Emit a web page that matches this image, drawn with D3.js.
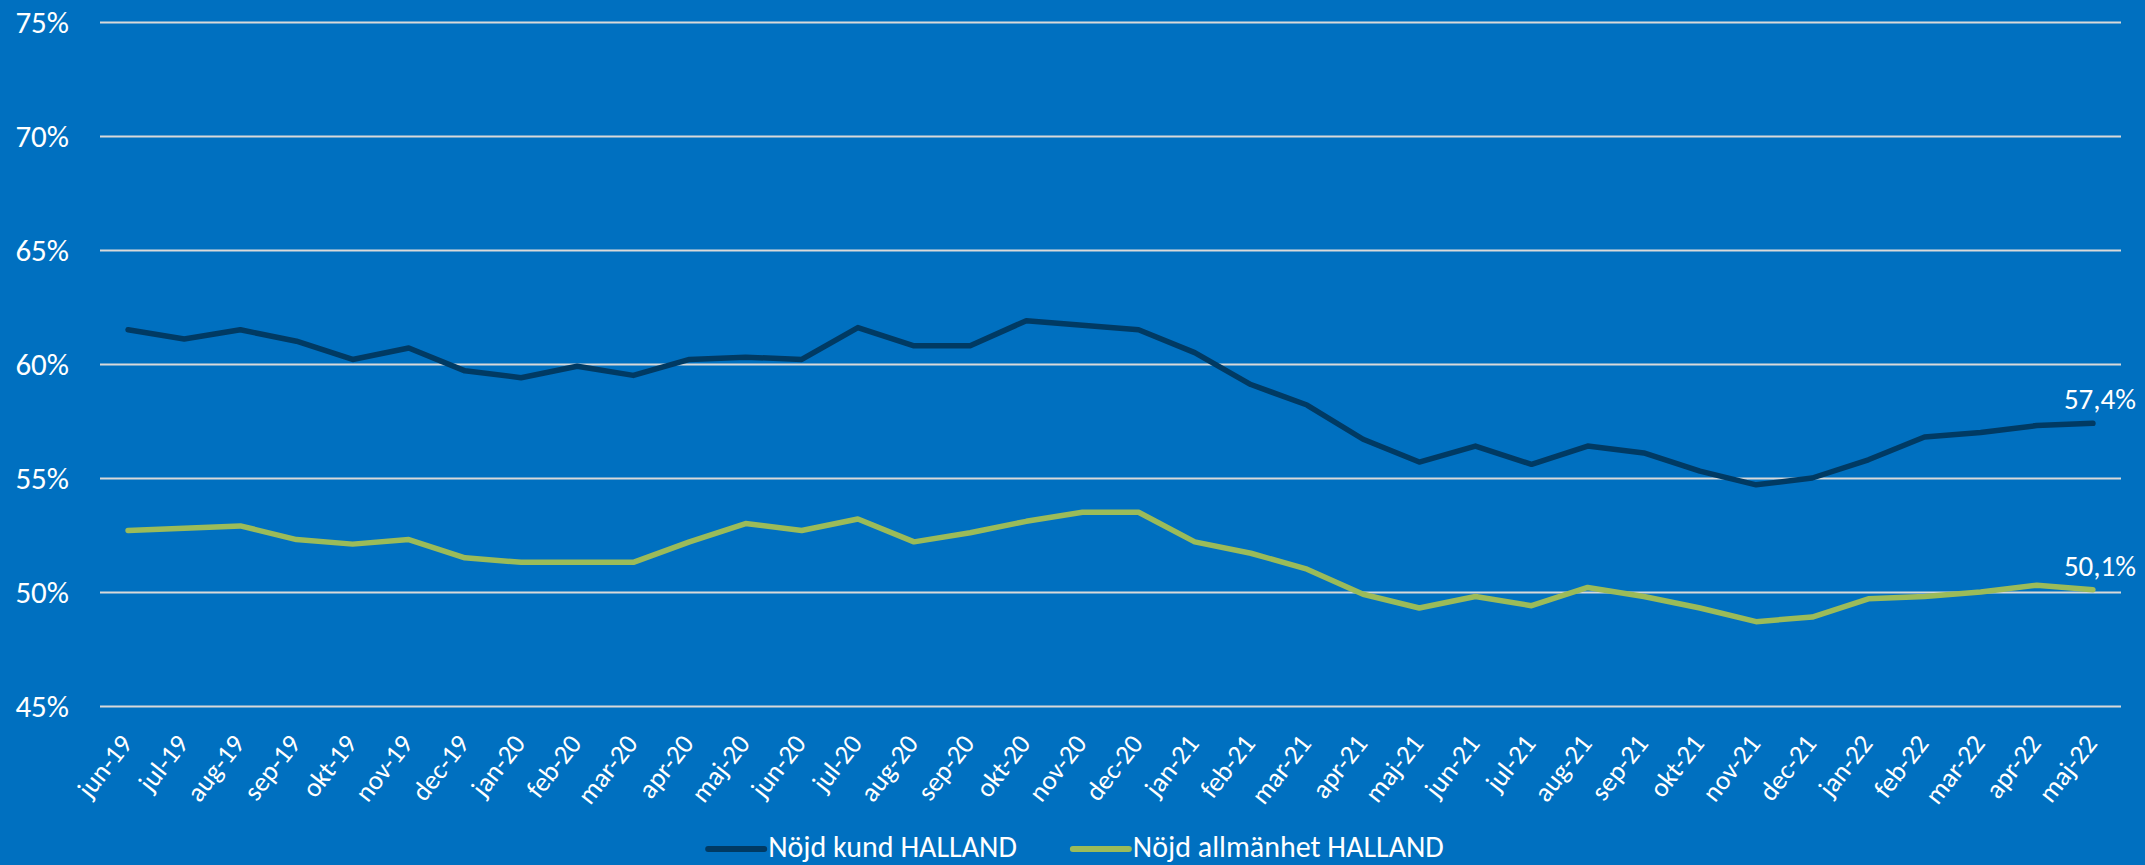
<!DOCTYPE html>
<html>
<head>
<meta charset="utf-8">
<script src="https://cdn.jsdelivr.net/npm/d3@7"></script>
<style>
	html, body { margin: 0; padding: 0; background: #0070C0; }
	svg { display: block; }
	text { font-family: Calibri, Carlito, "Open Sans", sans-serif; fill: #ffffff; }
</style>
</head>
<body>
<svg id="chart" width="2145" height="865"></svg>
<script>

// months on the x axis
const MONTHS = ['jun-19', 'jul-19', 'aug-19', 'sep-19', 'okt-19', 'nov-19', 'dec-19',
	'jan-20', 'feb-20', 'mar-20', 'apr-20', 'maj-20', 'jun-20', 'jul-20', 'aug-20', 'sep-20', 'okt-20', 'nov-20', 'dec-20',
	'jan-21', 'feb-21', 'mar-21', 'apr-21', 'maj-21', 'jun-21', 'jul-21', 'aug-21', 'sep-21', 'okt-21', 'nov-21', 'dec-21',
	'jan-22', 'feb-22', 'mar-22', 'apr-22', 'maj-22'];

// values in percent
const NOJD_KUND = [61.5, 61.1, 61.5, 61.0, 60.2, 60.7, 59.7,
	59.4, 59.9, 59.5, 60.2, 60.3, 60.2, 61.6, 60.8, 60.8, 61.9, 61.7, 61.5,
	60.5, 59.1, 58.2, 56.7, 55.7, 56.4, 55.6, 56.4, 56.1, 55.3, 54.7, 55.0,
	55.8, 56.8, 57.0, 57.3, 57.4];

const NOJD_ALLMANHET = [52.7, 52.8, 52.9, 52.3, 52.1, 52.3, 51.5,
	51.3, 51.3, 51.3, 52.2, 53.0, 52.7, 53.2, 52.2, 52.6, 53.1, 53.5, 53.5,
	52.2, 51.7, 51.0, 49.9, 49.3, 49.8, 49.4, 50.2, 49.8, 49.3, 48.7, 48.9,
	49.7, 49.8, 50.0, 50.3, 50.1];

const SERIES_NAMES = ['Nöjd kund HALLAND', 'Nöjd allmänhet HALLAND'];
const Y_TICKS = [45, 50, 55, 60, 65, 70, 75];

const COLORS = ['#003A63', '#9BBB59'];

const svg = d3.select('#chart');
const plot_left = 100, plot_right = 2121, plot_top = 22, plot_bottom = 706;

const x = d3.scalePoint()
	.domain(MONTHS)
	.range([plot_left, plot_right])
	.padding(0.5);

const y = d3.scaleLinear()
	.domain([45, 75])
	.range([plot_bottom, plot_top]);

// y axis + gridlines
const y_axis = svg.append('g')
	.attr('transform', `translate(${plot_left},0)`)
	.call(d3.axisLeft(y)
		.tickValues(Y_TICKS)
		.tickSize(-(plot_right - plot_left))
		.tickPadding(31)
		.tickFormat(d => d + '%'));
y_axis.select('.domain').remove();
y_axis.selectAll('line')
	.attr('stroke', '#D9D9D9')
	.attr('stroke-width', 2);
y_axis.selectAll('text')
	.attr('fill', '#ffffff')
	.style('font-size', '31px')
	.attr('dy', '0.35em');

// x axis labels
const x_axis = svg.append('g')
	.attr('transform', `translate(0,${plot_bottom})`)
	.call(d3.axisBottom(x).tickSize(0).tickPadding(0));
x_axis.select('.domain').remove();
x_axis.selectAll('text')
	.attr('fill', '#ffffff')
	.style('font-size', '27px')
	.attr('text-anchor', 'end')
	.attr('x', 0)
	.attr('y', 0)
	.attr('dy', 0)
	.attr('transform', 'translate(5,38) rotate(-52)');

// lines
const series = [NOJD_KUND, NOJD_ALLMANHET];
const line = d3.line()
	.x((d, i) => x(MONTHS[i]))
	.y(d => y(d));

svg.append('g')
	.selectAll('path')
	.data(series)
	.enter()
	.append('path')
		.attr('d', line)
		.attr('fill', 'none')
		.attr('stroke', (d, i) => COLORS[i])
		.attr('stroke-width', 5.5)
		.attr('stroke-linejoin', 'round')
		.attr('stroke-linecap', 'round');

// label on the last point of each series
const fmt = v => v.toFixed(1).replace('.', ',') + '%';
svg.append('g')
	.selectAll('text')
	.data(series)
	.enter()
	.append('text')
		.text(d => fmt(d[d.length - 1]))
		.attr('x', x(MONTHS[MONTHS.length - 1]) + 7)
		.attr('y', d => y(d[d.length - 1]) - 14)
		.attr('text-anchor', 'middle')
		.style('font-size', '29px');

// legend
const legend = svg.append('g');
const items = legend.selectAll('g')
	.data(SERIES_NAMES)
	.enter()
	.append('g');
items.append('line')
	.attr('x1', 0).attr('x2', 56)
	.attr('y1', 0).attr('y2', 0)
	.attr('stroke', (d, i) => COLORS[i])
	.attr('stroke-width', 6)
	.attr('stroke-linecap', 'round');
items.append('text')
	.text(d => d)
	.attr('x', 60)
	.attr('y', 8)
	.style('font-size', '30px');

let offset = 0;
items.each(function() {
	const w = d3.select(this).select('text').node().getComputedTextLength();
	d3.select(this).attr('transform', `translate(${offset},0)`);
	offset += 60 + w + 56;
});
const legend_width = offset - 56;
legend.attr('transform', `translate(${1076 - legend_width / 2},849)`);

</script>
</body>
</html>
